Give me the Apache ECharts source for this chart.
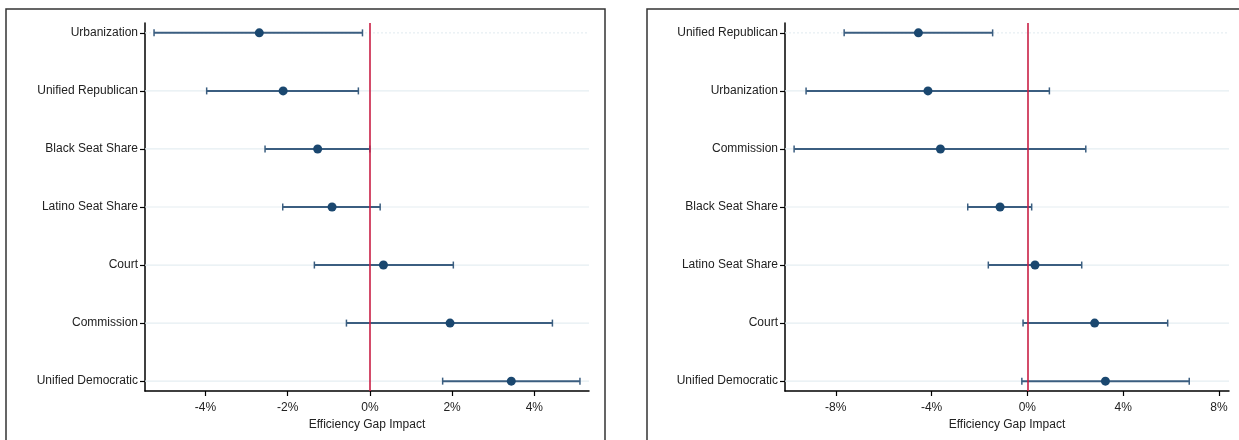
<!DOCTYPE html>
<html>
<head>
<meta charset="utf-8">
<title>Efficiency Gap Impact</title>
<script src="https://cdn.jsdelivr.net/npm/echarts@6/dist/echarts.min.js"></script>
<style>
  html, body { margin: 0; padding: 0; background: #fff; }
  #chart { width: 1239px; height: 440px; }
</style>
</head>
<body>
<div id="chart"></div>
<script>
// Left panel: coefficient estimates with confidence intervals (in percentage points)
const categoriesLeft = ['Urbanization', 'Unified Republican', 'Black Seat Share', 'Latino Seat Share', 'Court', 'Commission', 'Unified Democratic'];
const estimatesLeft = [-2.69, -2.11, -1.27, -0.92, 0.33, 1.95, 3.44];
const lowerLeft = [-5.25, -3.97, -2.55, -2.12, -1.35, -0.57, 1.77];
const upperLeft = [-0.18, -0.28, 0.0, 0.25, 2.03, 4.44, 5.11];
const xTicksLeft = [-4, -2, 0, 2, 4];

// Right panel
const categoriesRight = ['Unified Republican', 'Urbanization', 'Commission', 'Black Seat Share', 'Latino Seat Share', 'Court', 'Unified Democratic'];
const estimatesRight = [-4.55, -4.15, -3.63, -1.14, 0.32, 2.81, 3.26];
const lowerRight = [-7.65, -9.24, -9.74, -2.49, -1.63, -0.18, -0.23];
const upperRight = [-1.45, 0.92, 2.44, 0.18, 2.27, 5.86, 6.76];
const xTicksRight = [-8, -4, 0, 4, 8];

const axisTitle = 'Efficiency Gap Impact';

const FONT = '"Liberation Sans", Arial, sans-serif';
const TEXT = '#222';
const NAVY = '#1a476f';
const CI_COLOR = '#3b5e80';
const ZERO_COLOR = '#c91f45';
const GRID_COLOR = '#e5eef2';

const xRangeLeft = [-5.47, 5.33];
const xRangeRight = [-10.12, 8.42];
const yRange = [-0.17, 6.17];

function rows(cats, est, lo, hi) {
  return cats.map((c, i) => [i, est[i], lo[i], hi[i]]);
}

// Draws the row guide line, the interval bar and its end caps for one row
function makeRenderer(xRange) {
  return function (params, api) {
    const idx = api.value(0);
    const lo = api.value(2);
    const hi = api.value(3);
    const g0 = api.coord([xRange[0], idx]);
    const g1 = api.coord([xRange[1], idx]);
    const a = api.coord([lo, idx]);
    const b = api.coord([hi, idx]);
    const cap = 3.5;
    return {
      type: 'group',
      children: [
        {
          type: 'line',
          shape: { x1: g0[0], y1: g0[1], x2: g1[0], y2: g1[1] },
          style: { stroke: GRID_COLOR, lineWidth: 1.2, lineDash: idx === 0 ? [2, 2] : null },
          z2: 0
        },
        {
          type: 'line',
          shape: { x1: a[0], y1: a[1], x2: b[0], y2: b[1] },
          style: { stroke: CI_COLOR, lineWidth: 2 },
          z2: 2
        },
        {
          type: 'line',
          shape: { x1: a[0], y1: a[1] - cap, x2: a[0], y2: a[1] + cap },
          style: { stroke: CI_COLOR, lineWidth: 1.5 },
          z2: 2
        },
        {
          type: 'line',
          shape: { x1: b[0], y1: b[1] - cap, x2: b[0], y2: b[1] + cap },
          style: { stroke: CI_COLOR, lineWidth: 1.5 },
          z2: 2
        }
      ]
    };
  };
}

function xAxisFor(gridIndex, range, ticks) {
  return {
    type: 'value',
    gridIndex: gridIndex,
    min: range[0],
    max: range[1],
    name: axisTitle,
    nameLocation: 'middle',
    nameGap: 22,
    nameTextStyle: { color: TEXT, fontFamily: FONT, fontSize: 12 },
    axisLine: { show: true, onZero: false, lineStyle: { color: '#000', width: 1.5 } },
    axisTick: { show: true, length: 5, customValues: ticks, lineStyle: { color: '#000', width: 1.2 } },
    axisLabel: {
      customValues: ticks,
      margin: 11,
      color: TEXT,
      fontFamily: FONT,
      fontSize: 12,
      formatter: v => v + '%'
    },
    splitLine: { show: false }
  };
}

function yAxisFor(gridIndex, cats) {
  const idx = cats.map((c, i) => i);
  return {
    type: 'value',
    gridIndex: gridIndex,
    inverse: true,
    min: yRange[0],
    max: yRange[1],
    axisLine: { show: true, onZero: false, lineStyle: { color: '#000', width: 1.5 } },
    axisTick: { show: true, length: 5, customValues: idx, lineStyle: { color: '#000', width: 1.2 } },
    axisLabel: {
      customValues: idx,
      margin: 7,
      color: TEXT,
      fontFamily: FONT,
      fontSize: 12,
      formatter: v => cats[Math.round(v)]
    },
    splitLine: { show: false }
  };
}

function zeroLine() {
  return {
    silent: true,
    symbol: 'none',
    label: { show: false },
    lineStyle: { color: ZERO_COLOR, width: 1.6, type: 'solid', opacity: 1 },
    data: [{ xAxis: 0 }]
  };
}

const chart = echarts.init(document.getElementById('chart'), null, { renderer: 'canvas' });

chart.setOption({
  animation: false,
  backgroundColor: '#fff',
  graphic: [
    { type: 'rect', shape: { x: 6, y: 9, width: 599, height: 450 }, style: { fill: 'none', stroke: '#333', lineWidth: 1.5 }, silent: true },
    { type: 'rect', shape: { x: 647, y: 9, width: 620, height: 450 }, style: { fill: 'none', stroke: '#333', lineWidth: 1.5 }, silent: true }
  ],
  grid: [
    { left: 145, right: 650, top: 23, bottom: 49, containLabel: false },
    { left: 785, right: 10, top: 23, bottom: 49, containLabel: false }
  ],
  xAxis: [
    xAxisFor(0, xRangeLeft, xTicksLeft),
    xAxisFor(1, xRangeRight, xTicksRight)
  ],
  yAxis: [
    yAxisFor(0, categoriesLeft),
    yAxisFor(1, categoriesRight)
  ],
  series: [
    {
      type: 'custom',
      xAxisIndex: 0, yAxisIndex: 0,
      renderItem: makeRenderer(xRangeLeft),
      encode: { x: [1, 2, 3], y: 0 },
      data: rows(categoriesLeft, estimatesLeft, lowerLeft, upperLeft),
      silent: true,
      z: 2
    },
    {
      type: 'scatter',
      xAxisIndex: 0, yAxisIndex: 0,
      symbol: 'circle',
      symbolSize: 9,
      itemStyle: { color: NAVY, opacity: 1 },
      data: estimatesLeft.map((v, i) => [v, i]),
      markLine: zeroLine(),
      z: 4
    },
    {
      type: 'custom',
      xAxisIndex: 1, yAxisIndex: 1,
      renderItem: makeRenderer(xRangeRight),
      encode: { x: [1, 2, 3], y: 0 },
      data: rows(categoriesRight, estimatesRight, lowerRight, upperRight),
      silent: true,
      z: 2
    },
    {
      type: 'scatter',
      xAxisIndex: 1, yAxisIndex: 1,
      symbol: 'circle',
      symbolSize: 9,
      itemStyle: { color: NAVY, opacity: 1 },
      data: estimatesRight.map((v, i) => [v, i]),
      markLine: zeroLine(),
      z: 4
    }
  ]
});
</script>
</body>
</html>
